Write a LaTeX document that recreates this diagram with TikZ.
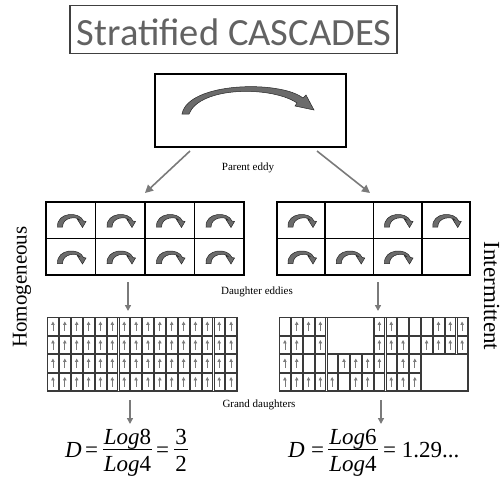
\documentclass[tikz,border=0pt]{standalone}
\usepackage{fontspec}
\setmainfont{Liberation Serif}
\newfontfamily\titlefont{Carlito}
\usetikzlibrary{arrows.meta}

\definecolor{titlegray}{HTML}{626262}
\definecolor{arrowgray}{HTML}{7A7A7A}
\definecolor{eddyfill}{HTML}{6B6B6B}
\definecolor{gridline}{HTML}{3A3A3A}

\tikzset{
  flow/.style={draw=arrowgray, line width=1.6pt, -{Triangle[length=8pt,width=8pt]}},
  downflow/.style={draw=arrowgray, line width=1.4pt, -{Triangle[length=6pt,width=6pt]}},
  eddybody/.style={fill=eddyfill, draw=black!85, line width=0.5pt, line join=miter},
  cellbox/.style={draw=gridline, line width=0.55pt, fill=white},
  uparrow/.style={draw=arrowgray, line width=0.7pt, -{Triangle[length=3.4pt,width=3.4pt]}},
  label/.style={font=\fontsize{11}{13}\selectfont, inner sep=0pt},
  formula/.style={font=\fontsize{23}{26}\selectfont, inner sep=0pt, anchor=base},
  pics/swirl/.style={code={
    \filldraw[eddybody] (-14,6) .. controls (-15,-9) and (8,-10) .. (12,0)
      -- (14.5,0.5) -- (11,6.5) -- (6,-1.5) -- (8,-1)
      .. controls (5,-5) and (-9,-4) .. (-9,6) -- cycle;}}
}

\begin{document}
\begin{tikzpicture}[x=1pt,y=-1pt]
\useasboundingbox (0,0) rectangle (503,479);

% title
\node[draw=black!75, line width=1.6pt, minimum width=327pt, minimum height=48pt, inner sep=0pt]
  (title) at (233.5,29.5) {};
\node[font=\titlefont\fontsize{38.5}{40}\selectfont, text=titlegray, anchor=base, inner sep=0pt]
  (titletext) at (234,45) {Stratified CASCADES};

% parent eddy
\node[draw=black, line width=1.8pt, minimum width=191pt, minimum height=73pt, inner sep=0pt]
  (parent) at (250.5,110.5) {};
\filldraw[eddybody] (182,114) .. controls (188,82) and (280,80) .. (303,98)
  -- (306,95) -- (314,110) -- (295,106) -- (297,103)
  .. controls (272,86) and (200,86) .. (189,114) -- cycle;
\node[label] (parentlabel) at (248,168) {Parent eddy};

% daughter grids
\node[draw=black, line width=1.8pt, minimum width=198pt, minimum height=73pt, inner sep=0pt]
  (homd) at (145,238.5) {};
\node[draw=black, line width=1.8pt, minimum width=193pt, minimum height=73pt, inner sep=0pt]
  (intd) at (373.5,238.5) {};
\foreach \i in {1,2,3}{
  \draw[line width=1.8pt] (46+\i*49.5,202) -- (46+\i*49.5,275);
  \draw[line width=1.8pt] (277+\i*48.25,202) -- (277+\i*48.25,275);
}
\draw[line width=1.8pt] (46,238.5) -- (244,238.5);
\draw[line width=1.8pt] (277,238.5) -- (470,238.5);

\foreach \r in {0,1}{
  \foreach \c in {0,...,3}{
    \pic at (46+\c*49.5+25.5, 202+\r*36.5+19) {swirl};
  }
}
\foreach \r/\c in {0/0,0/2,0/3,1/0,1/1,1/2}{
  \pic at (277+\c*48.25+25, 202+\r*36.5+19) {swirl};
}

% connectors from parent to daughters
\coordinate (pl) at (190,151);
\coordinate (pr) at (317,151);
\coordinate (dl) at (145,193);
\coordinate (dr) at (370,193);
\draw[flow] (pl) -- (dl);
\draw[flow] (pr) -- (dr);

\node[label] (daughterlabel) at (257,292) {Daughter eddies};

\coordinate (hd1) at (128,282);
\coordinate (hd2) at (128,311);
\coordinate (id1) at (378,282);
\coordinate (id2) at (378,311);
\draw[downflow] (hd1) -- (hd2);
\draw[downflow] (id1) -- (id2);

% grand daughters, homogeneous cascade
\foreach \r in {0,...,3}{
  \foreach \c in {0,...,15}{
    \draw[cellbox] (47+\c*11.875+0.6, 317+\r*18.5+0.6) rectangle ++(10.675,17.3);
    \draw[uparrow] (47+\c*11.875+5.94, 317+\r*18.5+14) -- ++(0,-9.5);
  }
}
\draw[draw=gridline, line width=0.8pt] (47,317) rectangle (237,391);

% grand daughters, intermittent cascade
\foreach \r in {0,1}{
  \foreach \c in {0,...,3,8,9,...,15}{
    \draw[cellbox] (279+\c*11.8125+0.6, 317+\r*18.5+0.6) rectangle ++(10.6125,17.3);
  }
}
\foreach \r in {2,3}{
  \foreach \c in {0,...,11}{
    \draw[cellbox] (279+\c*11.8125+0.6, 317+\r*18.5+0.6) rectangle ++(10.6125,17.3);
  }
}
\draw[cellbox] (279+4*11.8125+0.6, 317.6) rectangle (279+8*11.8125-0.6, 317+37-0.6);
\draw[cellbox] (279+12*11.8125+0.6, 317+37+0.6) rectangle (468-0.6, 391-0.6);
\foreach \r/\c in {0/1,0/2,0/3,0/8,0/9,0/13,0/14,0/15,
                   1/0,1/1,1/3,1/8,1/9,1/10,1/12,1/13,1/14,1/15,
                   2/0,2/1,2/5,2/6,2/7,2/8,2/10,2/11,
                   3/0,3/1,3/2,3/3,3/4,3/6,3/7,3/9,3/10,3/11}{
  \draw[uparrow] (279+\c*11.8125+5.9, 317+\r*18.5+14) -- ++(0,-9.5);
}
\draw[draw=gridline, line width=0.8pt] (279,317) rectangle (468,391);

\node[label] (granddaughterlabel) at (259,405) {Grand daughters};

\coordinate (hg1) at (130,400);
\coordinate (hg2) at (130,424);
\coordinate (ig1) at (381,400);
\coordinate (ig2) at (381,424);
\draw[downflow] (hg1) -- (hg2);
\draw[downflow] (ig1) -- (ig2);

% fractal dimension, homogeneous
\node[formula] (hD) at (73.5,457) {\textit{D}};
\node[formula] (heq1) at (91.5,457) {=};
\node[formula] (hnum) at (127.5,444) {\textit{Log}8};
\node[formula] (hden) at (127.5,471) {\textit{Log}4};
\draw[line width=0.9pt] (103,449) -- (152,449);
\node[formula] (heq2) at (162.5,457) {=};
\node[formula] (hthree) at (181,444) {3};
\node[formula] (htwo) at (181,471) {2};
\draw[line width=0.9pt] (174,449) -- (188,449);

% fractal dimension, intermittent
\node[formula] (iD) at (296.5,457) {\textit{D}};
\node[formula] (ieq1) at (317.5,457) {=};
\node[formula] (inum) at (353,444) {\textit{Log}6};
\node[formula] (iden) at (353,471) {\textit{Log}4};
\draw[line width=0.9pt] (328,449) -- (378,449);
\node[formula, anchor=base west] (ival) at (383,457) {= 1.29...};

% side labels
\node[font=\fontsize{21}{23}\selectfont, inner sep=0pt, rotate=90] (homlabel) at (22,287) {Homogeneous};
\node[font=\fontsize{23}{25}\selectfont, inner sep=0pt, rotate=-90] (intlabel) at (491.5,296) {Intermittent};
\end{tikzpicture}
\end{document}
